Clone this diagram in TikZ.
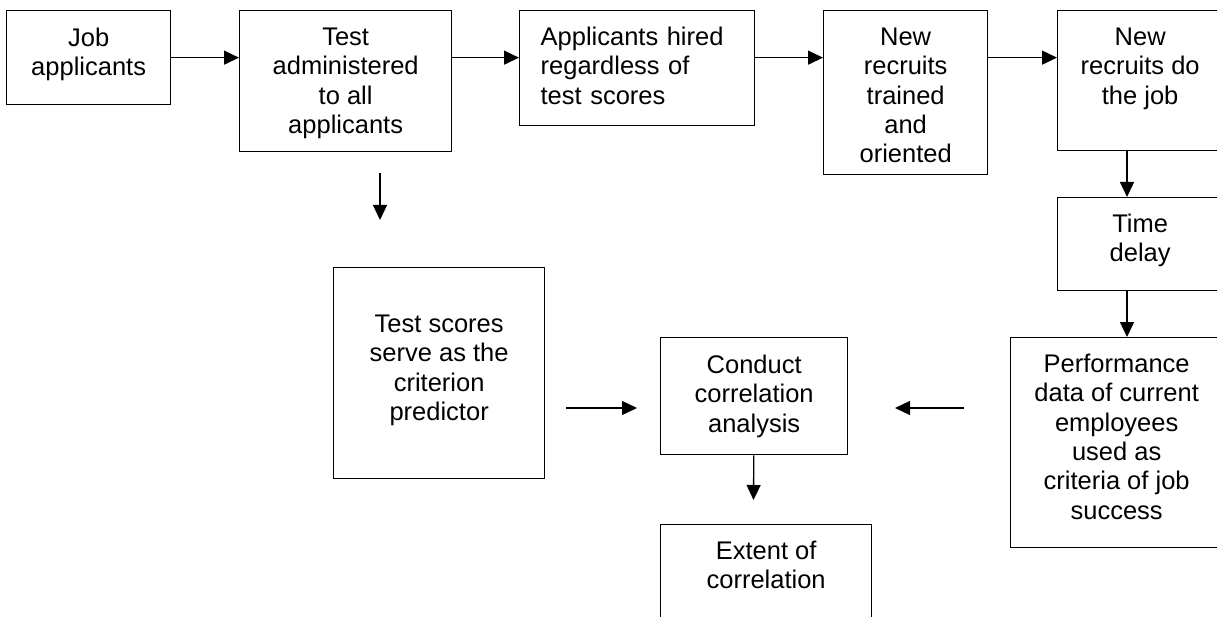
\documentclass[tikz,border=0pt]{standalone}
\usepackage{fontspec}
\setmainfont{Liberation Sans}
\usetikzlibrary{arrows.meta}

\begin{document}
\begin{tikzpicture}[x=1pt,y=-1pt,
	flow_box/.style={draw,line width=1.3pt,rectangle,inner sep=0pt,anchor=north west,align=center,font=\fontsize{25.5}{29.3}\selectfont},
	flow_arrow/.style={line width=1.3pt,-{Triangle[length=15pt,width=14pt]}}]

		\useasboundingbox (0,0) rectangle (1217,617);
		\clip (0,0) rectangle (1217,617);

		\node[flow_box,minimum width=164,text height=64.8,text depth=29.2] (job) at (6,10) {Job\\applicants};
		\node[flow_box,minimum width=212,text height=122.9,text depth=18.1] (test) at (239,10) {Test\\administered\\to all\\applicants};
		\node[flow_box,minimum width=235,text width=193,align=left,text height=35,text depth=80] (hired) at (519,10) {Applicants hired\\regardless of\\test scores};
		\node[flow_box,minimum width=164,text height=152.2,text depth=11.8] (trained) at (823,10) {New\\recruits\\trained\\and\\oriented};
		\node[flow_box,minimum width=165,text height=93.6,text depth=46.4] (dojob) at (1057,10) {New\\recruits do\\the job};
		\node[flow_box,minimum width=165,text height=64.3,text depth=28.7] (delay) at (1057,197) {Time\\delay};
		\node[flow_box,minimum width=212,text height=181.5,text depth=28.5] (perf) at (1010,337) {Performance\\data of current\\employees\\used as\\criteria of job\\success};
		\node[flow_box,minimum width=211,text height=152.9,text depth=58.1] (scores) at (333,267) {Test scores\\serve as the\\criterion\\predictor};
		\node[flow_box,minimum width=187,text height=94.6,text depth=22.4] (conduct) at (660,337) {Conduct\\correlation\\analysis};
		\node[flow_box,minimum width=211,text height=64.3,text depth=41.7] (extent) at (660,524) {Extent of\\correlation};

		\coordinate (drop) at (1127,0);
		\coordinate (s1) at (380,173);
		\coordinate (s2) at (380,220);
		\coordinate (p1) at (566,408);
		\coordinate (p2) at (637,408);
		\coordinate (c1) at (964,408);
		\coordinate (c2) at (895,408);
		\coordinate (r1) at (753.5,500);

		\draw[flow_arrow] (job) -- (job -| test.west);
		\draw[flow_arrow] (test.east |- job) -- (hired.west |- job);
		\draw[flow_arrow] (hired.east |- job) -- (trained.west |- job);
		\draw[flow_arrow] (trained.east |- job) -- (dojob.west |- job);
		\draw[flow_arrow] (dojob.south -| drop) -- (delay.north -| drop);
		\draw[flow_arrow] (delay.south -| drop) -- (perf.north -| drop);
		\draw[flow_arrow] (s1) -- (s2);
		\draw[flow_arrow] (p1) -- (p2);
		\draw[flow_arrow] (c1) -- (c2);
		\draw[flow_arrow] (conduct) -- (r1);
		\end{tikzpicture}
\end{document}
